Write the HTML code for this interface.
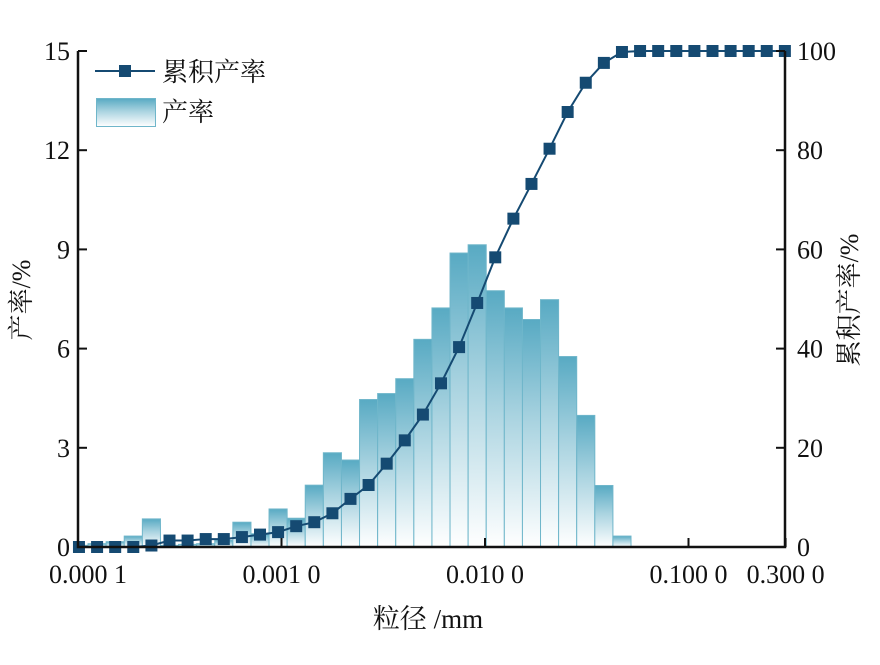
<!DOCTYPE html>
<html><head><meta charset="utf-8"><style>
html,body{margin:0;padding:0;background:#fff;}
svg{display:block;font-family:"Liberation Serif","Noto Serif CJK SC","Noto Sans CJK SC",serif;}
</style></head><body>
<svg id="chart" width="880" height="665" viewBox="0 0 880 665">
<defs>
<linearGradient id="barGrad" x1="0" y1="0" x2="0" y2="1">
<stop offset="0" stop-color="#58aac3"/>
<stop offset="0.45" stop-color="#a9d3e0"/>
<stop offset="1" stop-color="#ffffff"/>
</linearGradient>
</defs>
<g id="bars"></g>
<g id="line"></g>
<g id="axes"></g>
<g>
<line x1="95" y1="71" x2="155" y2="71" stroke="#154a72" stroke-width="2"/>
<rect x="119" y="65" width="12" height="12" fill="#154a72"/>
<text x="162" y="81" font-size="26" fill="#111">累积产率</text>
<rect x="96.5" y="98.5" width="59" height="28" fill="url(#barGrad)" stroke="#6fb6ca"/>
<text x="162" y="121" font-size="26" fill="#111">产率</text>
</g>
<text x="428" y="628" font-size="27" text-anchor="middle" fill="#111">粒径 /mm</text>
<text transform="translate(30,300) rotate(-90)" font-size="26" text-anchor="middle" fill="#111">产率/%</text>
<text transform="translate(858,300) rotate(-90)" font-size="26" text-anchor="middle" fill="#111">累积产率/%</text>
</svg>
<script>
const sizes = [0.0001011,0.0001241,0.0001523,0.0001869,0.0002295,0.0002816,0.0003456,0.0004242,0.0005205,0.000639,0.0007841,0.0009621,0.001181,0.001449,0.001779,0.002183,0.002679,0.003288,0.004035,0.004953,0.006078,0.007458,0.009154,0.01123,0.01379,0.01692,0.02076,0.02548,0.03127,0.03838,0.0471,0.05781,0.07096,0.08709,0.1069,0.1312,0.161,0.1976,0.2424,0.2976];
const yieldValues = [0.05,0.1,0.16,0.33,0.85,0.05,0.08,0.1,0.2,0.75,0.4,1.15,0.87,1.87,2.85,2.63,4.46,4.64,5.09,6.28,7.23,8.89,9.14,7.75,7.23,6.88,7.48,5.76,3.98,1.86,0.33];
const cumulativeValues = [0,0,0,0,0.3,1.3,1.3,1.6,1.6,2.0,2.5,3.0,4.2,5.0,6.8,9.7,12.5,16.8,21.5,26.7,33.0,40.3,49.2,58.4,66.2,73.2,80.3,87.7,93.6,97.6,99.8,100,100,100,100,100,100,100,100,100];
const xTicks = [0.0001,0.001,0.01,0.1,0.3];
const xTickLabels = ["0.000 1","0.001 0","0.010 0","0.100 0","0.300 0"];
const leftTicks = [0,3,6,9,12,15];
const rightTicks = [0,20,40,60,80,100];

const NS="http://www.w3.org/2000/svg";
const L=78,R=785,T=51,B=547;
function xs(v){return L+(Math.log10(v)+4)*203.5;}
function yl(v){return B-(B-T)*v/15;}
function yr(v){return B-(B-T)*v/100;}
function mk(tag,attrs,parent){const e=document.createElementNS(NS,tag);for(const k in attrs)e.setAttribute(k,attrs[k]);parent.appendChild(e);return e;}

const gb=document.getElementById('bars');
yieldValues.forEach((v,i)=>{
  const c=xs(sizes[i]);
  const lft=i>0?(c+xs(sizes[i-1]))/2:c-(xs(sizes[i+1])-c)/2;
  const rgt=(c+xs(sizes[i+1]))/2;
  const x0=Math.max(lft,L+1);
  const r=mk('rect',{x:x0,y:yl(v),width:rgt-x0,height:B-yl(v),fill:'url(#barGrad)',stroke:'#6fb6ca','stroke-width':1},gb);
  
  
});

const gl=document.getElementById('line');
const pts=cumulativeValues.map((v,i)=>xs(sizes[i])+','+yr(v)).join(' ');
const pl=mk('polyline',{points:pts,fill:'none',stroke:'#154a72','stroke-width':2},gl);


cumulativeValues.forEach((v,i)=>{
  const m=mk('rect',{x:xs(sizes[i])-6,y:yr(v)-6,width:12,height:12,fill:'#154a72'},gl);
  
  
});

const ga=document.getElementById('axes');
const frame=mk('path',{d:`M${L},${T} V${B} H${R} V${T}`,fill:'none',stroke:'#111','stroke-width':2.5},ga);


leftTicks.forEach(v=>{
  const t=mk('line',{x1:L,x2:L+9,y1:yl(v),y2:yl(v),stroke:'#111','stroke-width':2},ga);
  
  
  const tx=mk('text',{x:L-8,y:yl(v)+9,'font-size':26,'text-anchor':'end',fill:'#111'},ga);
  tx.textContent=v;
  
  
});
rightTicks.forEach(v=>{
  const t=mk('line',{x1:R-9,x2:R,y1:yr(v),y2:yr(v),stroke:'#111','stroke-width':2},ga);
  
  
  const tx=mk('text',{x:R+12,y:yr(v)+9,'font-size':26,fill:'#111'},ga);
  tx.textContent=v;
  
  
});
xTicks.forEach((v,i)=>{
  const x=xs(v);
  const t=mk('line',{x1:x,x2:x,y1:B,y2:B-9,stroke:'#111','stroke-width':2},ga);
  
  
  const tx=mk('text',{x:x+(i===0?10:0),y:B+36,'font-size':26,'text-anchor':'middle',fill:'#111'},ga);
  tx.textContent=xTickLabels[i];
  
  
});
</script>
</body></html>
